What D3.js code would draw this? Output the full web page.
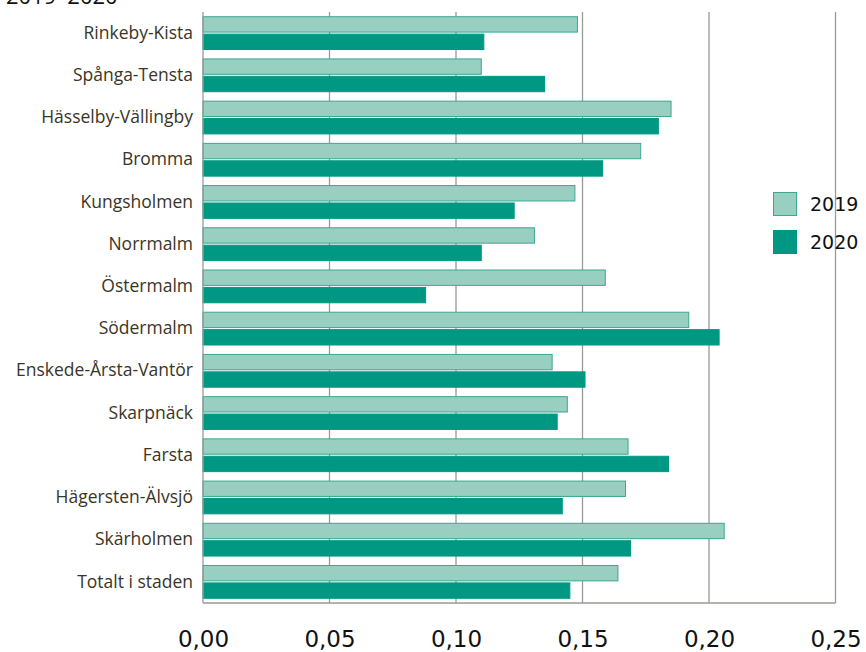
<!DOCTYPE html>
<html><head><meta charset="utf-8">
<script src="https://cdn.jsdelivr.net/npm/d3@7"></script>
<style>body{margin:0;background:#fff;}svg{display:block;}</style>
</head><body>
<script>
const categories = ["Rinkeby-Kista","Spånga-Tensta","Hässelby-Vällingby","Bromma","Kungsholmen","Norrmalm","Östermalm","Södermalm","Enskede-Årsta-Vantör","Skarpnäck","Farsta","Hägersten-Älvsjö","Skärholmen","Totalt i staden"];
const values2019 = [0.148,0.110,0.185,0.173,0.147,0.131,0.159,0.192,0.138,0.144,0.168,0.167,0.206,0.164];
const values2020 = [0.111,0.135,0.180,0.158,0.123,0.110,0.088,0.204,0.151,0.140,0.184,0.142,0.169,0.145];
const seriesNames = ["2019","2020"];
const tickValues = [0,0.05,0.10,0.15,0.20,0.25];
const titleText = "2019–2020";

const W=866,H=652;
const svg=d3.select("body").append("svg").attr("width",W).attr("height",H);
const mLeft=203,mRight=835.5,mTop=12,mBottom=603;
const x=d3.scaleLinear().domain([0,0.25]).range([mLeft,mRight]);
const y=d3.scaleBand().domain(categories).range([mTop,mBottom]).paddingInner(0.2).paddingOuter(0.1);
const sub=d3.scaleBand().domain(seriesNames).range([0,y.bandwidth()]).paddingInner(0.06);
const fill={"2019":"#99cfc1","2020":"#009882"};
const stroke={"2019":"#3aa891","2020":"#009882"};

svg.append("text").attr("x",6).attr("y",4).attr("font-family","'Open Sans', sans-serif").attr("font-size",22).attr("fill","#111").text(titleText);

// grid
svg.append("g").selectAll("line").data(tickValues.slice(1)).join("line")
  .attr("x1",d=>x(d)).attr("x2",d=>x(d)).attr("y1",mTop).attr("y2",mBottom)
  .attr("stroke","#9a9a96").attr("stroke-width",1.3);

const data=categories.map((c,i)=>({c,v:{"2019":values2019[i],"2020":values2020[i]}}));
const g=svg.append("g");
data.forEach(d=>{
  seriesNames.forEach(s=>{
    g.append("rect").attr("x",x(0)).attr("y",y(d.c)+sub(s)+0.5)
     .attr("width",x(d.v[s])-x(0)).attr("height",sub.bandwidth()-1)
     .attr("fill",fill[s]).attr("stroke",stroke[s]).attr("stroke-width",1);
  });
});

// axes lines
svg.append("line").attr("x1",mLeft).attr("x2",mLeft).attr("y1",mTop).attr("y2",mBottom).attr("stroke","#9a9a96").attr("stroke-width",1.3);
svg.append("line").attr("x1",mLeft).attr("x2",mRight).attr("y1",mBottom).attr("y2",mBottom).attr("stroke","#9a9a96").attr("stroke-width",1.3);

// category labels
const yAxis=d3.axisLeft(y).tickSize(0).tickPadding(10);
const ya=svg.append("g").attr("transform",`translate(${mLeft},0)`).call(yAxis);
ya.select(".domain").remove();
ya.selectAll("text").attr("font-family","'Open Sans', sans-serif").attr("font-size",17.5).attr("fill","#3a3526");

// x tick labels
const xAxis=d3.axisBottom(x).tickValues(tickValues).tickSize(0).tickPadding(0).tickFormat(d=>d3.format(".2f")(d).replace(".",","));
const xa=svg.append("g").attr("transform",`translate(0,${mBottom+26})`).call(xAxis);
xa.select(".domain").remove();
xa.selectAll("text").attr("font-family","'DejaVu Sans', sans-serif").attr("font-size",23).attr("fill","#111").attr("dy","0.8em");

// legend
const lg=svg.append("g");
seriesNames.forEach((s,i)=>{
  const yy=192+i*38;
  lg.append("rect").attr("x",773.5).attr("y",yy+0.5).attr("width",23).attr("height",23)
    .attr("fill",fill[s]).attr("stroke",stroke[s]).attr("stroke-width",1);
  lg.append("text").attr("x",810).attr("y",yy+12).attr("dy","0.36em")
    .attr("font-family","'DejaVu Sans', sans-serif").attr("font-size",19).attr("fill","#111").text(s);
});
</script>
</body></html>
